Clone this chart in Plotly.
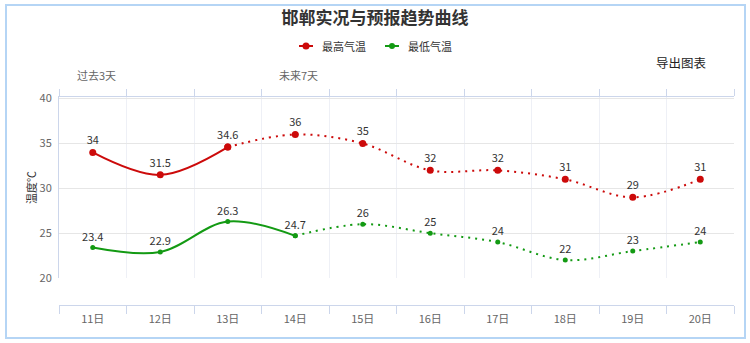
import plotly.graph_objects as go

# Daily temperatures, 11th to 20th
days = ["11日", "12日", "13日", "14日", "15日", "16日", "17日", "18日", "19日", "20日"]
high = [34, 31.5, 34.6, 36, 35, 32, 32, 31, 29, 31]
low = [23.4, 22.9, 26.3, 24.7, 26, 25, 24, 22, 23, 24]
high_obs_end = 2   # last observed index for the highs
low_obs_end = 3    # last observed index for the lows
y_ticks = [20, 25, 30, 35, 40]
series_names = ["最高气温", "最低气温"]

RED = "#cc0a0a"
GREEN = "#139a13"
FONT = "Noto Sans CJK SC, Noto Sans, sans-serif"
AXIS_LINE = "#ccd6eb"

W, H = 750, 343
ML, MR, MT, MB = 59, 16, 97, 38

xs = list(range(len(days)))
fmt = lambda v: f"{v:g}"

fig = go.Figure()


def add_series(vals, obs_end, color, name, msize):
    # observed part: solid
    fig.add_trace(go.Scatter(
        x=xs[:obs_end + 1], y=vals[:obs_end + 1],
        mode="lines+markers+text", name=name,
        line=dict(color=color, width=2, shape="spline", smoothing=1),
        marker=dict(color=color, size=msize),
        text=[fmt(v) for v in vals[:obs_end + 1]],
        textposition="top center",
        textfont=dict(size=11, color="#333333", family=FONT),
        cliponaxis=False, showlegend=False,
    ))
    # forecast part: dotted
    fc_text = [fmt(v) for v in vals[obs_end:]]
    fc_text[0] = ""
    fig.add_trace(go.Scatter(
        x=xs[obs_end:], y=vals[obs_end:],
        mode="lines+markers+text", name=name,
        line=dict(color=color, width=2, shape="spline", smoothing=1, dash="2px,5px"),
        marker=dict(color=color, size=msize),
        text=fc_text,
        textposition="top center",
        textfont=dict(size=11, color="#333333", family=FONT),
        cliponaxis=False, showlegend=False,
    ))


add_series(high, high_obs_end, RED, series_names[0], 7)
add_series(low, low_obs_end, GREEN, series_names[1], 5)

# invisible trace bound to the top axis so it gets drawn
fig.add_trace(go.Scatter(x=[xs[0]], y=[None], xaxis="x2", showlegend=False,
                         hoverinfo="skip"))

plot_w = W - ML - MR
plot_h = H - MT - MB
px2x = lambda px: (px - ML) / plot_w
px2y = lambda py: (H - MB - py) / plot_h

fig.update_layout(
    width=W, height=H,
    margin=dict(l=ML, r=MR, t=MT, b=MB),
    paper_bgcolor="white", plot_bgcolor="white",
    font=dict(family=FONT, color="#333333"),
    showlegend=False,
    title=dict(text="<b>邯郸实况与预报趋势曲线</b>", x=0.5, xanchor="center",
               y=1 - 18 / H, yanchor="middle",
               font=dict(size=17, color="#333333", family=FONT)),
    xaxis=dict(
        range=[-0.5, len(days) - 0.5],
        anchor="free", position=0,
        tickmode="array", tickvals=xs, ticktext=days,
        ticks="outside", ticklen=4, tickcolor="rgba(0,0,0,0)",
        tickfont=dict(size=11, color="#666666", family=FONT),
        showgrid=False, zeroline=False,
        showline=True, linecolor=AXIS_LINE, linewidth=1,
        minor=dict(tick0=-0.5, dtick=1, ticks="outside", ticklen=8,
                   tickcolor=AXIS_LINE, showgrid=True, gridcolor="#eef0f6"),
        fixedrange=True,
    ),
    xaxis2=dict(
        range=[-0.5, len(days) - 0.5],
        overlaying="x", side="top", anchor="y",
        tickmode="array", tickvals=[i - 0.5 for i in range(len(days) + 1)],
        showticklabels=False, ticks="outside", ticklen=7, tickcolor=AXIS_LINE,
        showgrid=False, zeroline=False,
        showline=True, linecolor=AXIS_LINE, linewidth=1,
    ),
    yaxis=dict(
        domain=[px2y(278), 1],
        range=[20, 40.18],
        tickmode="array", tickvals=y_ticks,
        tickfont=dict(size=11, color="#666666", family=FONT),
        showgrid=True, gridcolor="#e6e6e6", zeroline=False,
        showline=True, linecolor=AXIS_LINE, linewidth=1,
        ticks="", ticklabelstandoff=4,
        title=dict(text="温度℃", standoff=0,
                   font=dict(size=11, color="#333333", family=FONT)),
    ),
)


def note(text, px, py, size=11, color="#666666", xanchor="center"):
    fig.add_annotation(text=text, x=px2x(px), y=px2y(py), xref="paper", yref="paper",
                       xanchor=xanchor, yanchor="middle", showarrow=False,
                       font=dict(size=size, color=color, family=FONT))


note("过去3天", 96, 75)
note("未来7天", 298, 75)
note("导出图表", 681, 63, size=12.5, color="#222222")

# legend: short line with a dot, followed by the series name
for (lx, color, name, r) in [(299, RED, series_names[0], 3.5), (385, GREEN, series_names[1], 3)]:
    fig.add_shape(type="line", xref="paper", yref="paper",
                  x0=px2x(lx), x1=px2x(lx + 14), y0=px2y(46), y1=px2y(46),
                  line=dict(color=color, width=2))
    fig.add_shape(type="circle", xref="paper", yref="paper",
                  x0=px2x(lx + 7 - r), x1=px2x(lx + 7 + r),
                  y0=px2y(46 + r), y1=px2y(46 - r),
                  line=dict(color=color, width=0), fillcolor=color)
    note(name, lx + 21, 46, size=11, color="#333333", xanchor="left")

# outer frame
fig.add_shape(type="rect", xref="paper", yref="paper",
              x0=px2x(6), x1=px2x(745), y0=px2y(338), y1=px2y(5),
              line=dict(color="#b5d5f5", width=2), fillcolor="rgba(0,0,0,0)",
              layer="below")

fig.write_html("out.html")
